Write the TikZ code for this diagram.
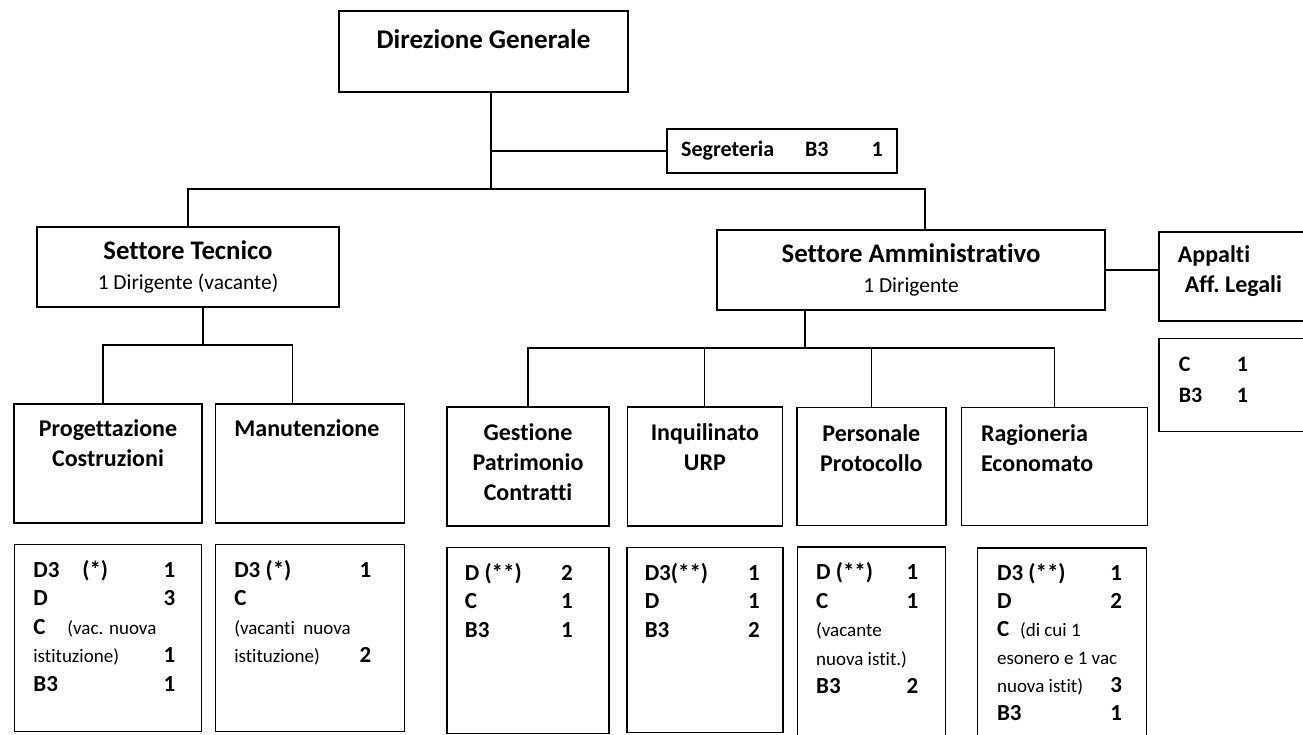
\documentclass[tikz,border=0pt]{standalone}
\usepackage{fontspec}
\setmainfont{Carlito}[Ligatures={NoCommon}]
\usetikzlibrary{positioning}
\newcommand{\smtxt}[1]{\mbox{\mdseries\fontsize{19}{28.5}\selectfont #1}}
\newcommand{\dirig}[1]{{\mdseries\fontsize{21.4}{24}\selectfont #1}}

\begin{document}
\begin{tikzpicture}[x=1pt, y=1pt, line width=1.1pt, node distance=20pt,
    box/.style={draw, line width=1.4pt, inner sep=0pt},
    title/.style={font=\bfseries\fontsize{27}{30}\selectfont, inner sep=0pt},
    sector/.style={box, align=center, font=\bfseries\fontsize{26.8}{30}\selectfont},
    unit/.style={font=\bfseries\fontsize{24}{30}\selectfont, inner sep=0pt, align=center},
    staff/.style={font=\bfseries\fontsize{23}{28.5}\selectfont, inner sep=0pt, align=flush left}]

\useasboundingbox (0,0) rectangle (1303,-734);
\clip (0,0) rectangle (1303,-734);

% top nodes
\node[box, minimum width=289pt, minimum height=81pt] (dg) at (483.5,-51.5) {};
\node[title] (dgt) [below=19pt of dg.north] {Direzione Generale};
\node[box, font=\bfseries\fontsize{22}{25}\selectfont, minimum width=230pt, minimum height=44pt] (seg) at (782,-151) {Segreteria\hspace{31pt}B3\hspace{43pt}1};

% sector nodes
\node[sector, minimum width=302pt, minimum height=80pt] (st) at (188,-267) {Settore Tecnico\\\dirig{1 Dirigente (vacante)}};
\node[sector, minimum width=388pt, minimum height=80pt] (sa) at (911,-270) {Settore Amministrativo\\\dirig{1 Dirigente}};
\node[box, minimum width=160pt, minimum height=89pt] (app) at (1239,-276.5) {};
\node[unit, align=flush left] (appt) [below right=14pt and 19pt of app.north west] {Appalti\\\hspace{7pt}Aff.\ Legali};
\node[box, minimum width=160pt, minimum height=93pt] (apps) [below=16pt of app] {};
\node[staff, font=\bfseries\fontsize{22}{31}\selectfont] (appst) [below right=19pt and 20pt of apps.north west] {\makebox[58pt][l]{C}1\\\makebox[58pt][l]{B3}1};

% top edges
\coordinate (jt) at (491,-189);
\draw ([xshift=7.5pt]dg.south) -- ([xshift=7.5pt]dg.south |- jt);
\draw (seg.west) -- (seg.west -| jt);
\draw (st.north) |- ([xshift=14pt]sa.north |- jt) -- ([xshift=14pt]sa.north);
\draw (sa.east) -- (sa.east -| app.west);

% technical units
\node[box, minimum width=188pt, minimum height=119pt] (pc) at (108,-463.5) {};
\node[box, minimum width=189pt, minimum height=119pt] (mn) [right=12pt of pc] {};
\node[unit] (pct) [below=16pt of pc.north] {Progettazione\\Costruzioni};
\node[unit] (mnt) [below=16pt of mn.north, xshift=-3pt] {Manutenzione};

\coordinate (tj) at (203,-345);
\draw ([xshift=15pt]st.south) -- ([xshift=15pt]st.south |- tj);
\draw ([xshift=-5pt]pc.north) |- ([xshift=-17.5pt]mn.north |- tj) -- ([xshift=-17.5pt]mn.north);

\node[box, minimum width=187pt, minimum height=187pt] (pcs) [below=20pt of pc] {};
\node[box, minimum width=189pt, minimum height=187pt] (mns) [below=20pt of mn] {};
\node[staff, text width=142pt] (pcst) [below right=16pt and 19pt of pcs.north west] {\makebox[49pt][l]{D3}(*)\hfill 1\\D\hfill 3\\\makebox[34pt][l]{C}\smtxt{(vac. nuova}\\\smtxt{istituzione)}\hfill 1\\B3\hfill 1};
\node[staff, text width=137pt] (mnst) [below right=16pt and 19pt of mns.north west] {D3 (*)\hfill 1\\C\\\smtxt{(vacanti\ \ nuova}\\\smtxt{istituzione)}\hfill 2};

% administrative units
\node[box, minimum width=162pt, minimum height=119pt] (gp) at (528,-466.5) {};
\node[box, minimum width=155pt, minimum height=119pt] (iq) [right=17pt of gp] {};
\node[box, minimum width=149pt, minimum height=118pt] (pp) [right=13pt of iq] {};
\node[box, minimum width=186pt, minimum height=118pt] (re) [right=14pt of pp] {};
\node[unit] (gpt) [below=17pt of gp.north] {Gestione\\Patrimonio\\Contratti};
\node[unit] (iqt) [below=17pt of iq.north] {Inquilinato\\URP};
\node[unit] (ppt) [below=17pt of pp.north] {Personale\\Protocollo};
\node[unit, align=flush left] (ret) [below right=17pt and 20pt of re.north west] {Ragioneria\\Economato};

\coordinate (aj) at (805,-348);
\draw ([xshift=-106pt]sa.south) -- ([xshift=-106pt]sa.south |- aj);
\draw (gp.north) |- (re.north |- aj) -- (re.north);
\draw (iq.north) -- (iq.north |- aj);
\draw (pp.north) -- (pp.north |- aj);

\node[box, minimum width=162pt, minimum height=186pt] (gps) [below=20pt of gp] {};
\node[box, minimum width=156pt, minimum height=185pt] (iqs) [below=20pt of iq] {};
\node[box, minimum width=148pt, minimum height=200pt] (pps) [below=20pt of pp] {};
\node[box, minimum width=169pt, minimum height=200pt] (res) [below=21pt of re, xshift=7.5pt] {};
\node[staff, text width=108pt] (gpst) [below right=16pt and 18pt of gps.north west] {D (**)\hfill 2\\C\hfill 1\\B3\hfill 1};
\node[staff, text width=115pt] (iqst) [below right=16pt and 18pt of iqs.north west] {D3(**)\hfill 1\\D\hfill 1\\B3\hfill 2};
\node[staff, text width=102pt] (ppst) [below right=16pt and 19pt of pps.north west] {D (**)\hfill 1\\C\hfill 1\\\smtxt{(vacante}\\\smtxt{nuova istit.)}\\B3\hfill 2};
\node[staff, text width=125pt, font=\bfseries\fontsize{23}{28}\selectfont] (rest) [below right=16pt and 20pt of res.north west] {D3 (**)\hfill 1\\D\hfill 2\\\makebox[23pt][l]{C}\smtxt{(di cui 1}\\\smtxt{esonero e 1 vac}\\\smtxt{nuova istit)}\hfill 3\\B3\hfill 1};

\end{tikzpicture}
\end{document}
